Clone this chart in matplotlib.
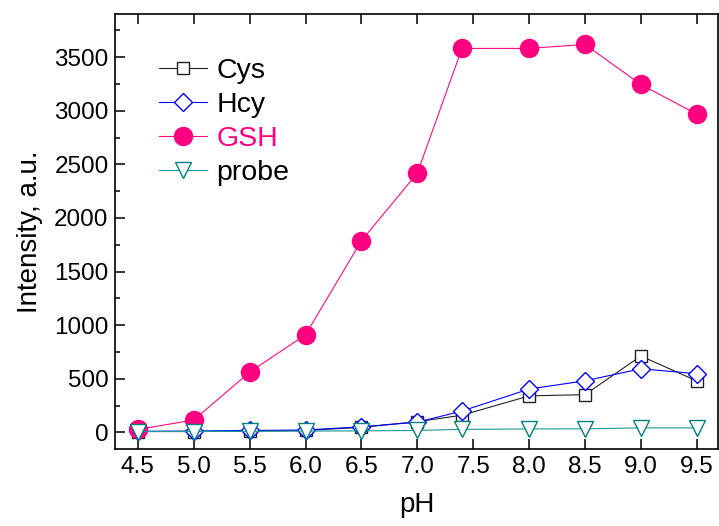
import matplotlib
matplotlib.use("Agg")
import matplotlib.pyplot as plt
from matplotlib.ticker import MultipleLocator

plt.rcParams['font.family'] = ['Liberation Sans', 'DejaVu Sans']

# pH values (7th point sits at 7.4, not 7.5)
ph = [4.5, 5.0, 5.5, 6.0, 6.5, 7.0, 7.4, 8.0, 8.5, 9.0, 9.5]

# intensities
cys = [8, 8, 12, 18, 47, 100, 160, 340, 352, 712, 480]
hcy = [10, 12, 18, 22, 52, 95, 199, 404, 481, 593, 547]
gsh = [28, 115, 562, 910, 1787, 2418, 3581, 3581, 3618, 3245, 2968]
probe = [8, 8, 10, 12, 14, 18, 28, 32, 33, 42, 42]

fig = plt.figure(figsize=(7.19, 5.26), dpi=100)
ax = fig.add_axes([0.1606, 0.1464, 0.8380, 0.8276])

lw = 0.8
ax.plot(ph, cys, '-s', color='#222222', lw=lw, ms=9, mfc='white', mec='#222222', mew=1.0, label='Cys')
ax.plot(ph, hcy, '-D', color='#0000ff', lw=lw, ms=8.7, mfc='white', mec='#0000ff', mew=1.0, label='Hcy')
ax.plot(ph, gsh, '-o', color='#ff0a80', lw=lw, ms=13, mfc='#ff0080', mec='#ff0080', label='GSH')
ax.plot(ph, probe, '-v', color='#1a9a9a', lw=lw, ms=11.5, mfc='white', mec='#008080', mew=1.0, label='probe')

ax.set_xlim(4.3, 9.69)
ax.set_ylim(-155, 3905)
ax.set_xticks([4.5, 5.0, 5.5, 6.0, 6.5, 7.0, 7.5, 8.0, 8.5, 9.0, 9.5])
ax.set_xticklabels(['4.5', '5.0', '5.5', '6.0', '6.5', '7.0', '7.5', '8.0', '8.5', '9.0', '9.5'])
ax.yaxis.set_major_locator(MultipleLocator(500))
ax.yaxis.set_minor_locator(MultipleLocator(250))

ax.tick_params(axis='both', which='major', direction='in', length=7, width=1.1, labelsize=17.5, pad=5)
ax.tick_params(axis='y', which='minor', direction='in', length=3.6, width=1.1)
ax.tick_params(axis='x', top=True, which='major')
for s in ax.spines.values():
    s.set_linewidth(1.2)

ax.set_xlabel('pH', fontsize=20, labelpad=10)
ax.set_ylabel('Intensity, a.u.', fontsize=20, labelpad=8)

leg = ax.legend(loc='upper left', bbox_to_anchor=(0.072, 0.898), frameon=False,
                fontsize=20.5, handlelength=1.7, handletextpad=0.32, labelspacing=0.28,
                borderpad=0, borderaxespad=0)
for t, c in zip(leg.get_texts(), ['black', 'black', '#ff0080', 'black']):
    t.set_color(c)

fig.savefig('out.png', dpi=100)
